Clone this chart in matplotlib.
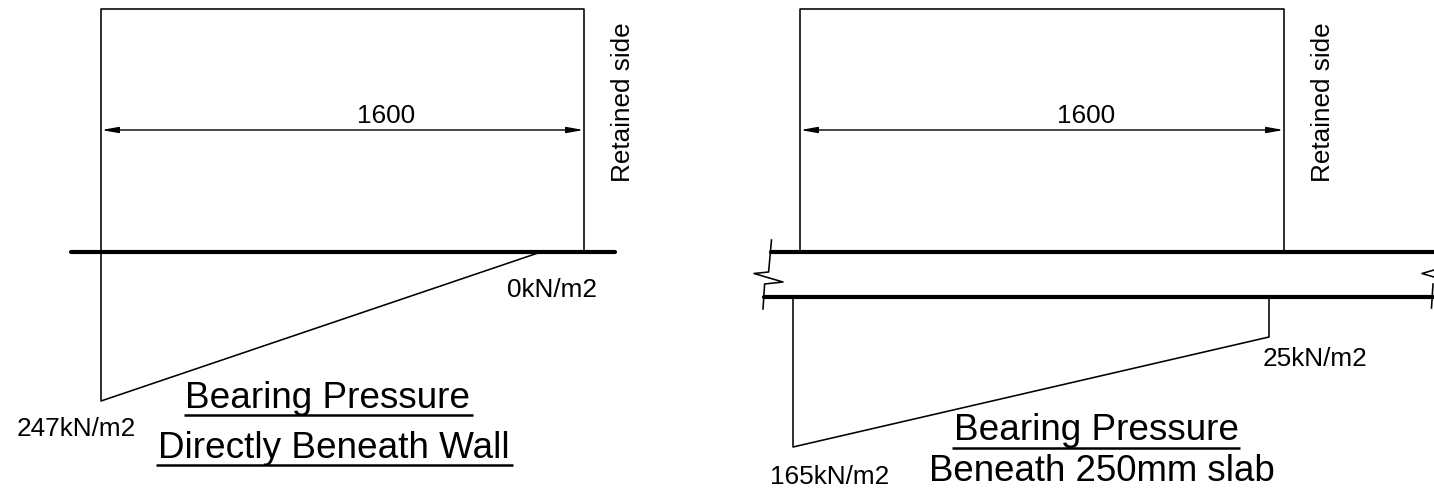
import matplotlib
matplotlib.use("Agg")
import matplotlib.pyplot as plt

plt.rcParams['font.family'] = ['Liberation Sans', 'DejaVu Sans']

W, H = 1434, 488

# everything below is in picture pixels, y going down
wall_left = [[101, 584], [9, 251]]
wall_right = [[800, 1284], [9, 251]]

base_left = [71, 615, 251.5]
base_right_top = [771, 1434, 251.5]
base_right_bot = [764, 1434, 297]

pressure_left_x = [101, 101, 541]
pressure_left_y = [251, 401, 252]
pressure_right_x = [793, 793, 1269, 1269]
pressure_right_y = [297, 447, 337, 297]

break_left_x = [771.5, 768.6, 754, 783, 764.6, 763]
break_left_y = [240, 272, 273.5, 282, 284, 309]
break_right_x = [1434, 1422, 1434]
break_right_y = [270, 273.5, 277]
break_right2_x = [1433, 1431.5]
break_right2_y = [284, 308]

dim_left = [101, 584, 130]
dim_right = [800, 1284, 130]
dim_label = "1600"
side_label = "Retained side"

small = 18.8
big = 26.6

# label, x, baseline, size
labels = [
    ("247kN/m2", 17, 436.5, small),
    ("0kN/m2", 507, 297, small),
    ("25kN/m2", 1263, 365.5, small),
    ("165kN/m2", 770, 484, small),
    ("Bearing Pressure", 185, 408.5, big),
    ("Directly Beneath Wall", 158, 458.5, big),
    ("Bearing Pressure", 954, 440.5, big),
    ("Beneath 250mm slab", 929, 481, big * 0.993),
]

# x0, x1, y
underlines = [
    (184, 473, 415),
    (156, 513, 465),
    (952, 1240, 448),
]

fig = plt.figure(figsize=(W / 100, H / 100), dpi=100)
ax = fig.add_axes([0, 0, 1, 1])
ax.set_xlim(0, W)
ax.set_ylim(H, 0)
ax.axis("off")

thin = 1.15
thick = 3.0
ink = "black"


def draw_wall(xs, ys):
    ax.plot([xs[0], xs[0], xs[1], xs[1], xs[0]], [ys[1], ys[0], ys[0], ys[1], ys[1]], color=ink, lw=thin)


def draw_dim(x0, x1, y):
    ax.annotate("", xy=(x0 + 0.5, y), xytext=(x1 - 0.5, y),
                arrowprops=dict(arrowstyle="<|-|>,head_length=1.0,head_width=0.18", color=ink,
                                lw=1.0, shrinkA=0, shrinkB=0))
    ax.text((x0 + x1) / 2 + 44, y - 7, dim_label, ha="center", va="baseline", fontsize=small)


draw_wall(*wall_left)
draw_wall(*wall_right)

for x0, x1, y in (base_left, base_right_top, base_right_bot):
    ax.plot([x0, x1], [y, y], color=ink, lw=thick, solid_capstyle="round")

ax.plot(pressure_left_x, pressure_left_y, color=ink, lw=thin)
ax.plot(pressure_right_x, pressure_right_y, color=ink, lw=thin)

ax.plot(break_left_x, break_left_y, color=ink, lw=thin)
ax.plot(break_right_x, break_right_y, color=ink, lw=thin)
ax.plot(break_right2_x, break_right2_y, color=ink, lw=thin)

draw_dim(*dim_left)
draw_dim(*dim_right)

for x in (623, 1323):
    ax.text(x, 102.5, side_label, rotation=90, ha="center", va="center", fontsize=small)

for text, x, y, size in labels:
    ax.text(x, y, text, ha="left", va="baseline", fontsize=size)

for x0, x1, y in underlines:
    ax.plot([x0, x1], [y, y], color=ink, lw=1.8, solid_capstyle="butt")

fig.savefig("out.png", dpi=100, facecolor="white")
